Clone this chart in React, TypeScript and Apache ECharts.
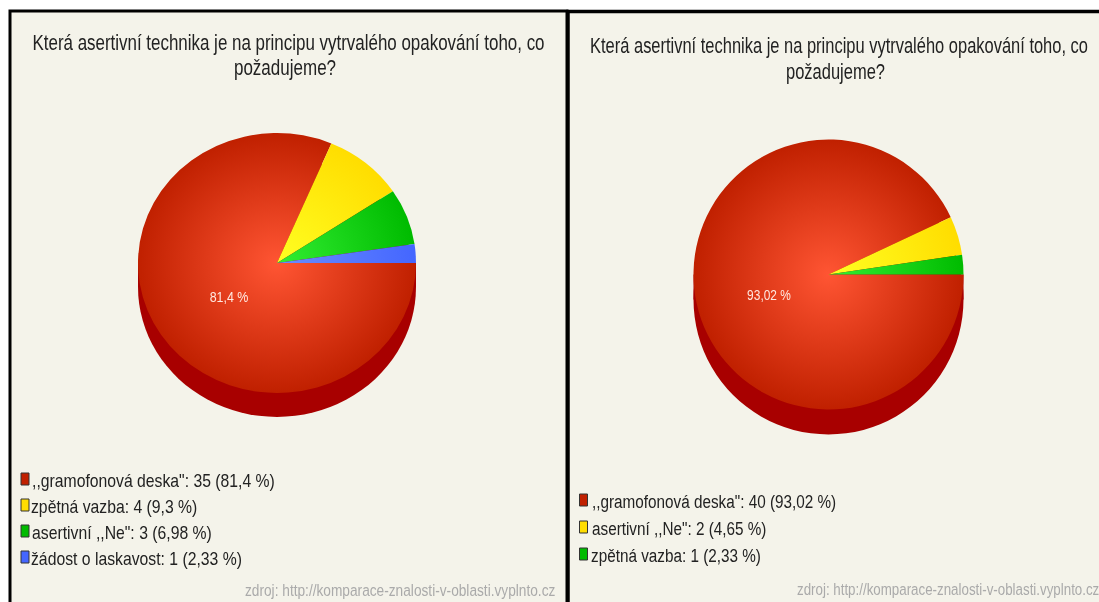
import React, { useEffect, useRef } from "react";
import * as echarts from "echarts";

const titleLines = ["Která asertivní technika je na principu vytrvalého opakování toho, co", "požadujeme?"];
const source = "zdroj: http://komparace-znalosti-v-oblasti.vyplnto.cz";

const leftNames = [",,gramofonová deska", "zpětná vazba", "asertivní ,,Ne", "žádost o laskavost"];
const leftSuffix = ['"', "", '"', ""];
const leftCounts = [35, 4, 3, 1];
const leftPercents = ["81,4", "9,3", "6,98", "2,33"];

const rightNames = [",,gramofonová deska", "asertivní ,,Ne", "zpětná vazba"];
const rightSuffix = ['"', '"', ""];
const rightCounts = [40, 2, 1];
const rightPercents = ["93,02", "4,65", "2,33"];

const faces = [
  { inner: "#ff5533", outer: "#c02000", swatch: "#c02000" },
  { inner: "#ffff22", outer: "#ffdd00", swatch: "#ffdd00" },
  { inner: "#33ee33", outer: "#00bb00", swatch: "#00bb00" },
  { inner: "#6a8cff", outer: "#4466ff", swatch: "#4466ff" },
];
const FONT = "'Liberation Sans', Arial, sans-serif";
const SIDE = "#a80000";

function pieSeries(counts: number[], percents: string[], g: any) {
  const total = counts.reduce((a, b) => a + b, 0);
  return {
    type: "custom",
    coordinateSystem: "none",
    silent: true,
    z: 3,
    data: counts.map((c, i) => [c, i]),
    renderItem: (_: any, api: any) => {
      const i = api.value(1);
      // Slices run clockwise from the end of the circle, the last one finishing at 3 o'clock.
      let after = 0;
      for (let k = i + 1; k < counts.length; k++) after += counts[k];
      const a0 = -((after + api.value(0)) / total) * Math.PI * 2;
      const a1 = -(after / total) * Math.PI * 2;
      const f = faces[i];
      const children: any[] = [];
      if (i === 0) {
        children.push(
          { type: "sector", shape: { cx: 0, cy: g.depth / g.sy, r: g.r, r0: 0, startAngle: 0, endAngle: Math.PI * 2 }, style: { fill: SIDE } },
          { type: "rect", shape: { x: -g.r, y: 0, width: g.r * 2, height: g.depth / g.sy }, style: { fill: SIDE } },
        );
      }
      children.push({
        type: "sector",
        shape: { cx: 0, cy: 0, r: g.r, r0: 0, startAngle: a0, endAngle: a1, clockwise: true },
        style: {
          fill: { type: "radial", x: 0, y: 0, r: g.r, global: true, colorStops: [{ offset: 0, color: f.inner }, { offset: 1, color: f.outer }] },
          stroke: "none",
        },
      });
      const els: any[] = [{ type: "group", x: g.cx, y: g.cy, scaleY: g.sy, children }];
      if (i === 0) {
        els.push({
          type: "text", x: g.lx, y: g.ly, scaleX: g.lsx,
          style: { text: percents[0] + " %", fill: "#ffe8e0", font: "15px " + FONT, align: "center", verticalAlign: "middle" },
        });
      }
      return { type: "group", children: els };
    },
  };
}

function txt(text: string, x: number, y: number, size: number, sx: number, fill: string, align = "left") {
  return { type: "text", x, y, scaleX: sx, z: 5, style: { text, fill, font: size + "px " + FONT, align, verticalAlign: "middle" } };
}
function legend(names: string[], suffix: string[], counts: number[], percents: string[], x: number, ys: number[], tx: number[], sx: number) {
  const out: any[] = [];
  names.forEach((n, i) => {
    out.push({ type: "rect", z: 5, shape: { x: x + 0.5, y: ys[i] - 6, width: 8, height: 12 }, style: { fill: faces[i].swatch, stroke: "#333", lineWidth: 1 } });
    out.push(txt(n + suffix[i] + ": " + counts[i] + " (" + percents[i] + " %)", tx[i], ys[i] + 1, 19, sx, "#222"));
  });
  return out;
}

export default function App() {
  const ref = useRef<HTMLDivElement>(null);
  useEffect(() => {
    document.body.style.margin = "0";
    const chart = echarts.init(ref.current!, null, { renderer: "svg" });
    const PANEL = "#f4f3ea";
    chart.setOption({
      animation: false,
      backgroundColor: "#ffffff",
      graphic: [
        { type: "rect", z: 1, shape: { x: 10, y: 11, width: 557, height: 600 }, style: { fill: PANEL, stroke: "#000", lineWidth: 3 } },
        { type: "rect", z: 1, shape: { x: 568, y: 11.5, width: 540, height: 600 }, style: { fill: PANEL, stroke: "#000", lineWidth: 3.5 } },
        txt(titleLines[0], 288.5, 42, 22, 0.77, "#222", "center"),
        txt(titleLines[1], 285, 67, 22, 0.773, "#222", "center"),
        txt(titleLines[0], 839, 45, 22, 0.749, "#222", "center"),
        txt(titleLines[1], 835.5, 71, 22, 0.75, "#222", "center"),
        ...legend(leftNames, leftSuffix, leftCounts, leftPercents, 20.5, [479, 505, 531, 557], [32, 31, 32, 31], 0.83),
        ...legend(rightNames, rightSuffix, rightCounts, rightPercents, 579, [500, 527, 554], [592, 592, 591], 0.805),
        txt(source, 245, 590, 17, 0.806, "#aaaaaa"),
        txt(source, 797, 589, 17, 0.785, "#aaaaaa"),
      ],
      series: [
        pieSeries(leftCounts, leftPercents, { cx: 277, cy: 263, r: 139, sy: 130 / 139, depth: 24, lx: 229, ly: 297, lsx: 0.83 }),
        pieSeries(rightCounts, rightPercents, { cx: 828.5, cy: 274.5, r: 135, sy: 1, depth: 25, lx: 769, ly: 295, lsx: 0.795 }),
      ],
    });
    return () => chart.dispose();
  }, []);
  return <div ref={ref} style={{ position: "fixed", left: 0, top: 0, width: 1099, height: 602, filter: "blur(0.4px)" }} />;
}
